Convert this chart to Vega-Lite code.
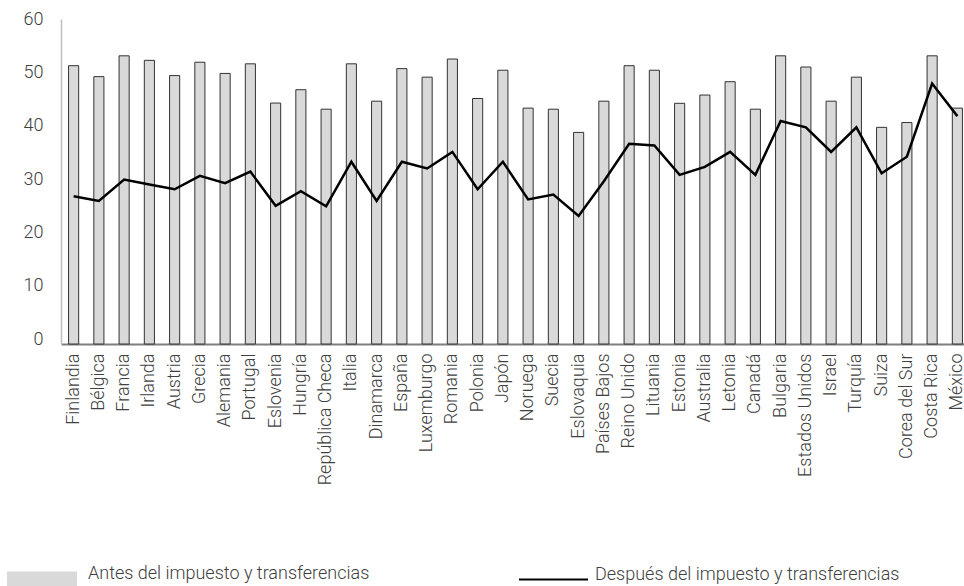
{
  "$schema": "https://vega.github.io/schema/vega-lite/v6.json",
  "width": 903,
  "height": 325,
  "autosize": {"type": "none"},
  "padding": {"left": 61, "top": 19, "right": 0, "bottom": 242},
  "background": "white",
  "config": {"view": {"stroke": null}, "font": "Roboto"},
  "data": {"values": [
    {"pais": "Finlandia", "antes": 51.25, "despues": 26.8},
    {"pais": "Bélgica", "antes": 49.2, "despues": 25.9},
    {"pais": "Francia", "antes": 53.1, "despues": 29.9},
    {"pais": "Irlanda", "antes": 52.25, "despues": 29.0},
    {"pais": "Austria", "antes": 49.4, "despues": 28.1},
    {"pais": "Grecia", "antes": 51.9, "despues": 30.6},
    {"pais": "Alemania", "antes": 49.8, "despues": 29.25},
    {"pais": "Portugal", "antes": 51.6, "despues": 31.4},
    {"pais": "Eslovenia", "antes": 44.25, "despues": 25.0},
    {"pais": "Hungría", "antes": 46.75, "despues": 27.75},
    {"pais": "República Checa", "antes": 43.1, "despues": 24.9},
    {"pais": "Italia", "antes": 51.6, "despues": 33.25},
    {"pais": "Dinamarca", "antes": 44.6, "despues": 25.9},
    {"pais": "España", "antes": 50.7, "despues": 33.25},
    {"pais": "Luxemburgo", "antes": 49.1, "despues": 32.0},
    {"pais": "Romania", "antes": 52.5, "despues": 35.1},
    {"pais": "Polonia", "antes": 45.1, "despues": 28.1},
    {"pais": "Japón", "antes": 50.4, "despues": 33.25},
    {"pais": "Noruega", "antes": 43.3, "despues": 26.2},
    {"pais": "Suecia", "antes": 43.1, "despues": 27.1},
    {"pais": "Eslovaquia", "antes": 38.75, "despues": 23.1},
    {"pais": "Países Bajos", "antes": 44.6, "despues": 29.6},
    {"pais": "Reino Unido", "antes": 51.25, "despues": 36.6},
    {"pais": "Lituania", "antes": 50.4, "despues": 36.3},
    {"pais": "Estonia", "antes": 44.2, "despues": 30.8},
    {"pais": "Australia", "antes": 45.75, "despues": 32.3},
    {"pais": "Letonia", "antes": 48.25, "despues": 35.1},
    {"pais": "Canadá", "antes": 43.1, "despues": 30.8},
    {"pais": "Bulgaria", "antes": 53.1, "despues": 40.9},
    {"pais": "Estados Unidos", "antes": 51.0, "despues": 39.7},
    {"pais": "Israel", "antes": 44.6, "despues": 35.1},
    {"pais": "Turquía", "antes": 49.1, "despues": 39.7},
    {"pais": "Suiza", "antes": 39.7, "despues": 31.1},
    {"pais": "Corea del Sur", "antes": 40.6, "despues": 34.2},
    {"pais": "Costa Rica", "antes": 53.1, "despues": 47.9},
    {"pais": "México", "antes": 43.3, "despues": 41.8}
  ]},
  "encoding": {
    "x": {
      "field": "pais", "type": "nominal", "sort": null,
      "scale": {"range": [0, 909], "paddingInner": 0.6, "paddingOuter": 0.3},
      "axis": {
        "title": null, "labelAngle": -90, "labelFont": "Roboto", "labelFontWeight": 300,
        "labelFontSize": 18, "labelColor": "#404040", "labelPadding": 9,
        "ticks": false, "domainColor": "#7f7f7f", "domainWidth": 2, "grid": false
      }
    }
  },
  "layer": [
    {
      "mark": {"type": "bar", "stroke": "#333333", "strokeWidth": 1},
      "encoding": {
        "y": {
          "field": "antes", "type": "quantitative",
          "scale": {"domain": [-0.9, 60], "nice": false, "zero": false},
          "axis": {
            "title": null, "values": [0, 10, 20, 30, 40, 50, 60], "grid": false, "ticks": false,
            "labelFont": "Roboto", "labelFontWeight": 300, "labelFontSize": 18,
            "labelColor": "#404040", "labelPadding": 18,
            "domainColor": "#bfbfbf", "domainWidth": 1.5
          }
        },
        "y2": {"datum": -0.9},
        "fill": {
          "datum": "Antes del impuesto y transferencias",
          "scale": {"range": ["#d9d9d9"]},
          "legend": {
            "title": null, "orient": "none", "legendX": -54, "legendY": 525,
            "padding": 0, "symbolType": "M-1,-0.2143L1,-0.2143L1,0.2143L-1,0.2143Z",
            "symbolSize": 4900, "symbolStrokeWidth": 0, "labelOffset": 11,
            "labelFont": "Roboto", "labelFontWeight": 300, "labelFontSize": 18,
            "labelColor": "#404040", "labelBaseline": "alphabetic", "labelLimit": 400
          }
        }
      }
    },
    {
      "mark": {"type": "line", "strokeWidth": 2.5},
      "encoding": {
        "y": {"field": "despues", "type": "quantitative"},
        "stroke": {
          "datum": "Después del impuesto y transferencias",
          "scale": {"range": ["#000000"]},
          "legend": {
            "title": null, "orient": "none", "legendX": 457, "legendY": 525,
            "padding": 0, "symbolType": "stroke", "symbolSize": 4761,
            "symbolStrokeWidth": 2, "labelOffset": 6,
            "labelFont": "Roboto", "labelFontWeight": 300, "labelFontSize": 18,
            "labelColor": "#404040", "labelBaseline": "alphabetic", "labelLimit": 400
          }
        }
      }
    }
  ]
}
